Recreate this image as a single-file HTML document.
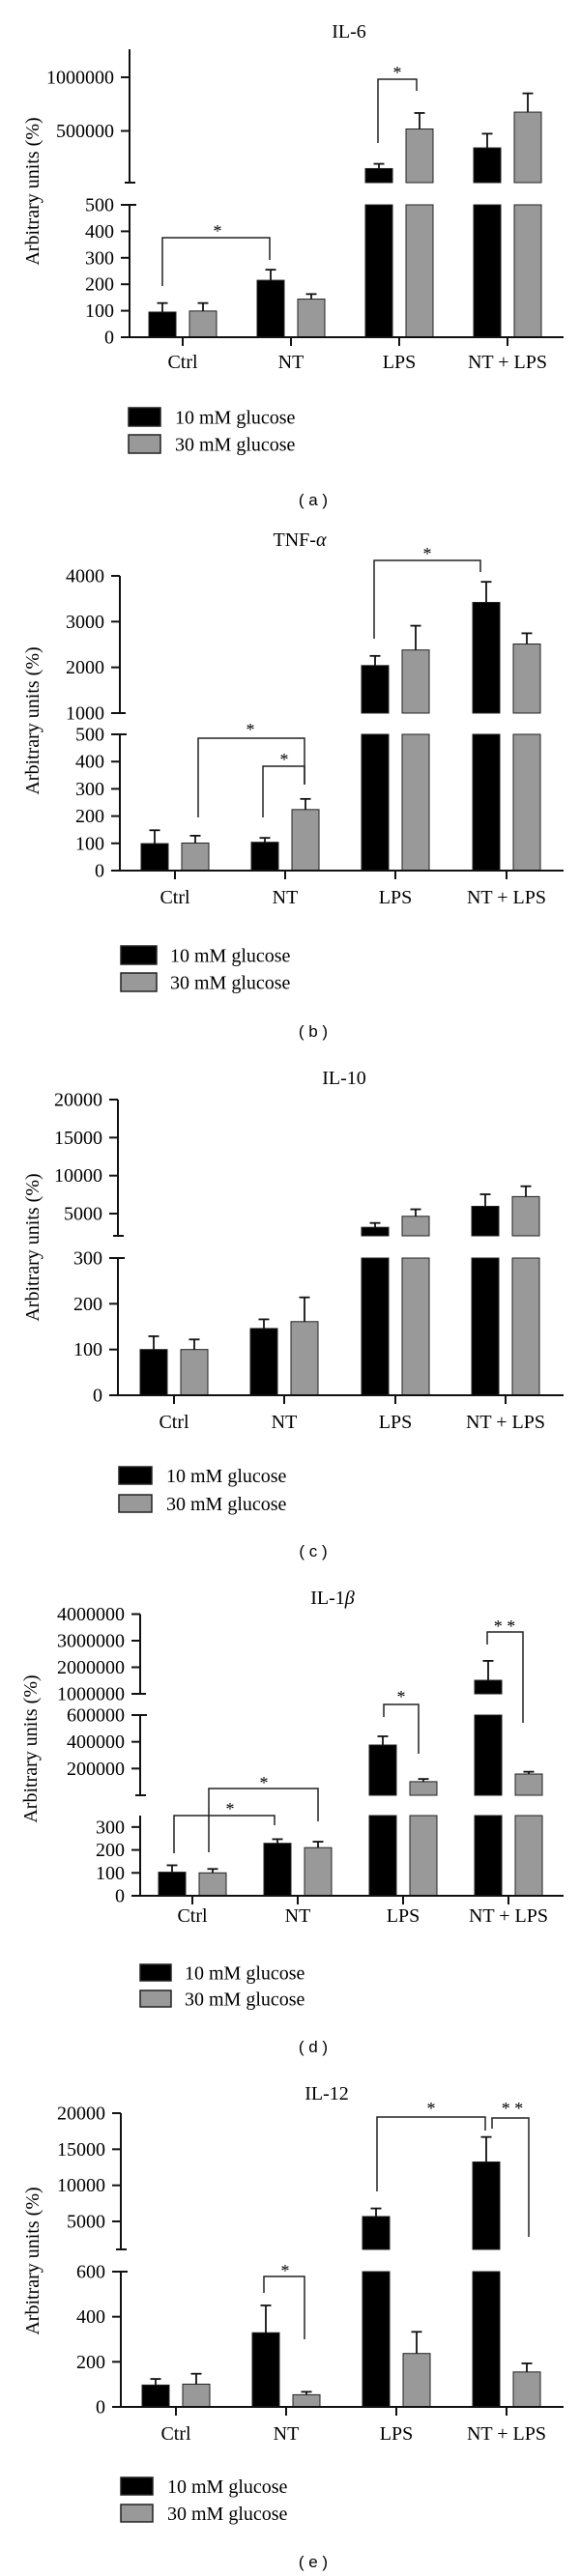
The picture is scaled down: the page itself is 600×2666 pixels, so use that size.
<!DOCTYPE html>
<html><head><meta charset="utf-8">
<style>
html,body{margin:0;padding:0;background:#fff;}
svg{display:block;font-family:"Liberation Serif",serif;}
</style></head>
<body>
<svg id="fig" width="600" height="2666" viewBox="0 0 600 2666" xmlns="http://www.w3.org/2000/svg"></svg>
<script>
// ---- data ----
const categories = ["Ctrl","NT","LPS","NT + LPS"];
const seriesNames = ["10 mM glucose","30 mM glucose"];
// Panel a: IL-6
const il6Black = [95, 215, 149000, 342000];
const il6BlackErr = [129, 255, 193000, 474000];
const il6Gray = [99, 144, 518000, 675000];
const il6GrayErr = [129, 163, 667000, 850000];
// Panel b: TNF-alpha
const tnfBlack = [99, 104, 2040, 3420];
const tnfBlackErr = [148, 120, 2250, 3870];
const tnfGray = [101, 224, 2380, 2510];
const tnfGrayErr = [128, 263, 2910, 2745];
// Panel c: IL-10
const il10Black = [100, 146, 3200, 5960];
const il10BlackErr = [129, 166, 3770, 7540];
const il10Gray = [100, 161, 4650, 7240];
const il10GrayErr = [122, 214, 5570, 8600];
// Panel d: IL-1beta
const il1bBlack = [103, 229, 376000, 1509000];
const il1bBlackErr = [133, 247, 441000, 2240000];
const il1bGray = [100, 210, 102000, 159000];
const il1bGrayErr = [117, 236, 122000, 176000];
// Panel e: IL-12
const il12Black = [97, 329, 5680, 13240];
const il12BlackErr = [124, 450, 6800, 16700];
const il12Gray = [101, 54, 237, 155];
const il12GrayErr = [147, 67, 333, 193];
// tick labels
const il6Ticks = [[0,100,200,300,400,500],[500000,1000000]];
const tnfTicks = [[0,100,200,300,400,500],[1000,2000,3000,4000]];
const il10Ticks = [[0,100,200,300],[5000,10000,15000,20000]];
const il1bTicks = [[0,100,200,300],[200000,400000,600000],[1000000,2000000,3000000,4000000]];
const il12Ticks = [[0,200,400,600],[5000,10000,15000,20000]];

// ---- layout ----
const panels = [
 {id:"a",title:"IL-6",greek:"",tx:361,ty:32,ax:134,cx:[189,301,413,525],xlab:381,
  segs:[{d:[0,500],p:[349,212]},{d:[18000,1261000],p:[189,51]}],ticks:il6Ticks,
  black:il6Black,blackErr:il6BlackErr,gray:il6Gray,grayErr:il6GrayErr,
  leg:{x:133,w:33,y1:422,y2:450,h:19,tx:181},sub:517,yl:198,
  br:[{x1:168,y1:296,x2:279,y2:269,top:246,sx:225,sy:236,s:"*"},{x1:391,y1:148,x2:431,y2:94,top:82,sx:411,sy:72,s:"*"}]},
 {id:"b",title:"TNF-",greek:"α",tx:310,ty:558,ax:124,cx:[181,295,409,524],xlab:935,
  segs:[{d:[0,500],p:[901,760]},{d:[1000,4000],p:[738,596]}],ticks:tnfTicks,
  black:tnfBlack,blackErr:tnfBlackErr,gray:tnfGray,grayErr:tnfGrayErr,
  leg:{x:125,w:37,y1:979,y2:1007,h:19,tx:176},sub:1067,yl:746,
  br:[{x1:387,y1:661,x2:497,y2:592,top:580,sx:442,sy:570,s:"*"},{x1:205,y1:846,x2:315,y2:812,top:764,sx:259,sy:752,s:"*"},{x1:272,y1:846,x2:315,y2:812,top:793,sx:294,sy:783,s:"*"}]},
 {id:"c",title:"IL-10",greek:"",tx:356,ty:1115,ax:122,cx:[180,294,409,523],xlab:1478,
  segs:[{d:[0,300],p:[1444,1302]},{d:[2080,20000],p:[1279,1138]}],ticks:il10Ticks,
  black:il10Black,blackErr:il10BlackErr,gray:il10Gray,grayErr:il10GrayErr,
  leg:{x:123,w:34,y1:1518,y2:1547,h:18,tx:172},sub:1605,yl:1291,br:[]},
 {id:"d",title:"IL-1",greek:"β",tx:344,ty:1653,ax:145,cx:[199,308,417,526],xlab:1989,
  segs:[{d:[0,350],p:[1962,1879]},{d:[0,600000],p:[1858,1775]},{d:[1000000,4000000],p:[1753,1670.5]}],ticks:il1bTicks,
  black:il1bBlack,blackErr:il1bBlackErr,gray:il1bGray,grayErr:il1bGrayErr,
  leg:{x:145,w:32,y1:2033,y2:2060,h:17,tx:191},sub:2118,yl:1810,
  br:[{x1:180,y1:1918,x2:284,y2:1889,top:1879,sx:238,sy:1869,s:"*"},{x1:216,y1:1917,x2:329,y2:1885,top:1851,sx:273,sy:1842,s:"*"},{x1:397,y1:1777,x2:433,y2:1815,top:1764,sx:415,sy:1753,s:"*"},{x1:504,y1:1702,x2:541,y2:1783,top:1689,sx:522,sy:1680,s:"* *"}]},
 {id:"e",title:"IL-12",greek:"",tx:338,ty:2166,ax:125,cx:[182,296,410,524],xlab:2525,
  segs:[{d:[0,600],p:[2491,2351]},{d:[1120,20000],p:[2328,2187]}],ticks:il12Ticks,
  black:il12Black,blackErr:il12BlackErr,gray:il12Gray,grayErr:il12GrayErr,
  leg:{x:125,w:33,y1:2564,y2:2592,h:18,tx:173},sub:2651,yl:2340,
  br:[{x1:273,y1:2373,x2:315,y2:2421,top:2356,sx:295,sy:2347,s:"*"},{x1:390,y1:2268,x2:502,y2:2205,top:2191,sx:446,sy:2179,s:"*"},{x1:509,y1:2203,x2:547,y2:2315,top:2192,sx:530,sy:2179,s:"* *"}]}
];
const XEND = 583, BW = 28, OFF = 21;
const NS = "http://www.w3.org/2000/svg";
const svg = document.getElementById("fig");
function mk(tag, attrs, parent){
  const e = document.createElementNS(NS, tag);
  for (const k in attrs) e.setAttribute(k, attrs[k]);
  (parent||svg).appendChild(e);
  return e;
}
function segScale(s, v){ return s.p[0] + (v - s.d[0]) / (s.d[1] - s.d[0]) * (s.p[1] - s.p[0]); }
function fmt(v){ return String(v); }
function segFloor(P, si){ return si === 0 ? P.segs[0].d[0] : Math.max(P.segs[si].d[0], P.segs[si-1].d[1]); }

panels.forEach(P => {
  const g = mk("g", {});
  
  
  const t = mk("text", {x:P.tx, y:P.ty+7, "text-anchor":"middle", "font-size":"20"}, g);
  
  
  t.textContent = P.title;
  if (P.greek){ const ts = mk("tspan", {"font-style":"italic"}, t); ts.textContent = P.greek; }
  const yl = mk("text", {x:0, y:0, "text-anchor":"middle", "font-size":"20", transform:`translate(${P.id==="d"?38:40},${P.yl}) rotate(-90)`}, g);
  
  
  yl.textContent = "Arbitrary units (%)";
  P.segs.forEach((s, si) => {
    const ax = mk("line", {x1:P.ax, x2:P.ax, y1:s.p[0], y2:s.p[1], stroke:"#111", "stroke-width":"2"}, g);
    
    
    if (si > 0){
      const et = mk("line", {x1:P.ax-5, x2:P.ax+6, y1:s.p[0], y2:s.p[0], stroke:"#111", "stroke-width":"2"}, g);
      
      
    }
    if (si < P.segs.length-1 && P.ticks[si].indexOf(s.d[1]) >= 0){
      const et = mk("line", {x1:P.ax, x2:P.ax+7, y1:s.p[1], y2:s.p[1], stroke:"#111", "stroke-width":"2"}, g);
      
      
    }
    P.ticks[si].forEach(v => {
      const y = segScale(s, v);
      const tk = mk("line", {x1:P.ax-9, x2:P.ax, y1:y, y2:y, stroke:"#111", "stroke-width":"2"}, g);
      
      
      const tl = mk("text", {x:P.ax-16, y:y+6.5, "text-anchor":"end", "font-size":"20"}, g);
      
      
      tl.textContent = fmt(v);
    });
  });
  const series = [{v:P.black, e:P.blackErr, fill:"#000", off:-OFF, n:"black"},{v:P.gray, e:P.grayErr, fill:"#999", off:OFF, n:"gray"}];
  series.forEach(S => {
    S.v.forEach((val, i) => {
      const cx = P.cx[i] + S.off;
      P.segs.forEach((s, si) => {
        const fl = segFloor(P, si);
        if (val <= fl) return;
        const yb = segScale(s, s.d[0]);
        const yt = segScale(s, Math.min(val, s.d[1]));
        const r = mk("rect", {x:cx-BW/2, y:yt, width:BW, height:Math.max(0, yb-yt), fill:S.fill, stroke:"#222", "stroke-width":"1"}, g);
        
        
      });
      const ev = S.e[i];
      P.segs.forEach((s, si) => {
        const fl = segFloor(P, si);
        if (ev <= fl || val >= s.d[1]) return;
        const y1 = segScale(s, Math.max(val, s.d[0]));
        const y2 = segScale(s, Math.min(ev, s.d[1]));
        const el = mk("line", {x1:cx, x2:cx, y1:y1, y2:y2, stroke:"#111", "stroke-width":"1.8"}, g);
        
        
        if (ev <= s.d[1]){
          const cp = mk("line", {x1:cx-5.5, x2:cx+5.5, y1:y2, y2:y2, stroke:"#111", "stroke-width":"1.8"}, g);
          
          
        }
      });
    });
  });
  const y0 = P.segs[0].p[0];
  const xa = mk("line", {x1:P.ax-1, x2:XEND, y1:y0, y2:y0, stroke:"#111", "stroke-width":"2"}, g);
  
  
  categories.forEach((c, i) => {
    const tk = mk("line", {x1:P.cx[i], x2:P.cx[i], y1:y0, y2:y0+9, stroke:"#111", "stroke-width":"2"}, g);
    
    
    const tl = mk("text", {x:P.cx[i], y:P.xlab, "text-anchor":"middle", "font-size":"20"}, g);
    
    
    tl.textContent = c;
  });
  P.br.forEach(b => {
    const pl = mk("polyline", {points:`${b.x1},${b.y1} ${b.x1},${b.top} ${b.x2},${b.top} ${b.x2},${b.y2}`, fill:"none", stroke:"#222", "stroke-width":"1.5"}, g);
    
    
    const st = mk("text", {x:b.sx, y:b.sy+9, "text-anchor":"middle", "font-size":"18"}, g);
    
    
    st.textContent = b.s;
  });
  [[P.leg.y1,"#000"],[P.leg.y2,"#999"]].forEach((L, k) => {
    const r = mk("rect", {x:P.leg.x, y:L[0], width:P.leg.w, height:P.leg.h, fill:L[1], stroke:"#222", "stroke-width":"1.5"}, g);
    
    
    const lt = mk("text", {x:P.leg.tx, y:L[0]+P.leg.h/2+7, "font-size":"20"}, g);
    
    
    lt.textContent = seriesNames[k];
  });
  const sl = mk("text", {x:324, y:P.sub+6, "text-anchor":"middle", "font-size":"17", "font-family":"Liberation Sans, sans-serif"}, g);
  
  
  sl.textContent = "( " + P.id + " )";
});
</script>
</body></html>
